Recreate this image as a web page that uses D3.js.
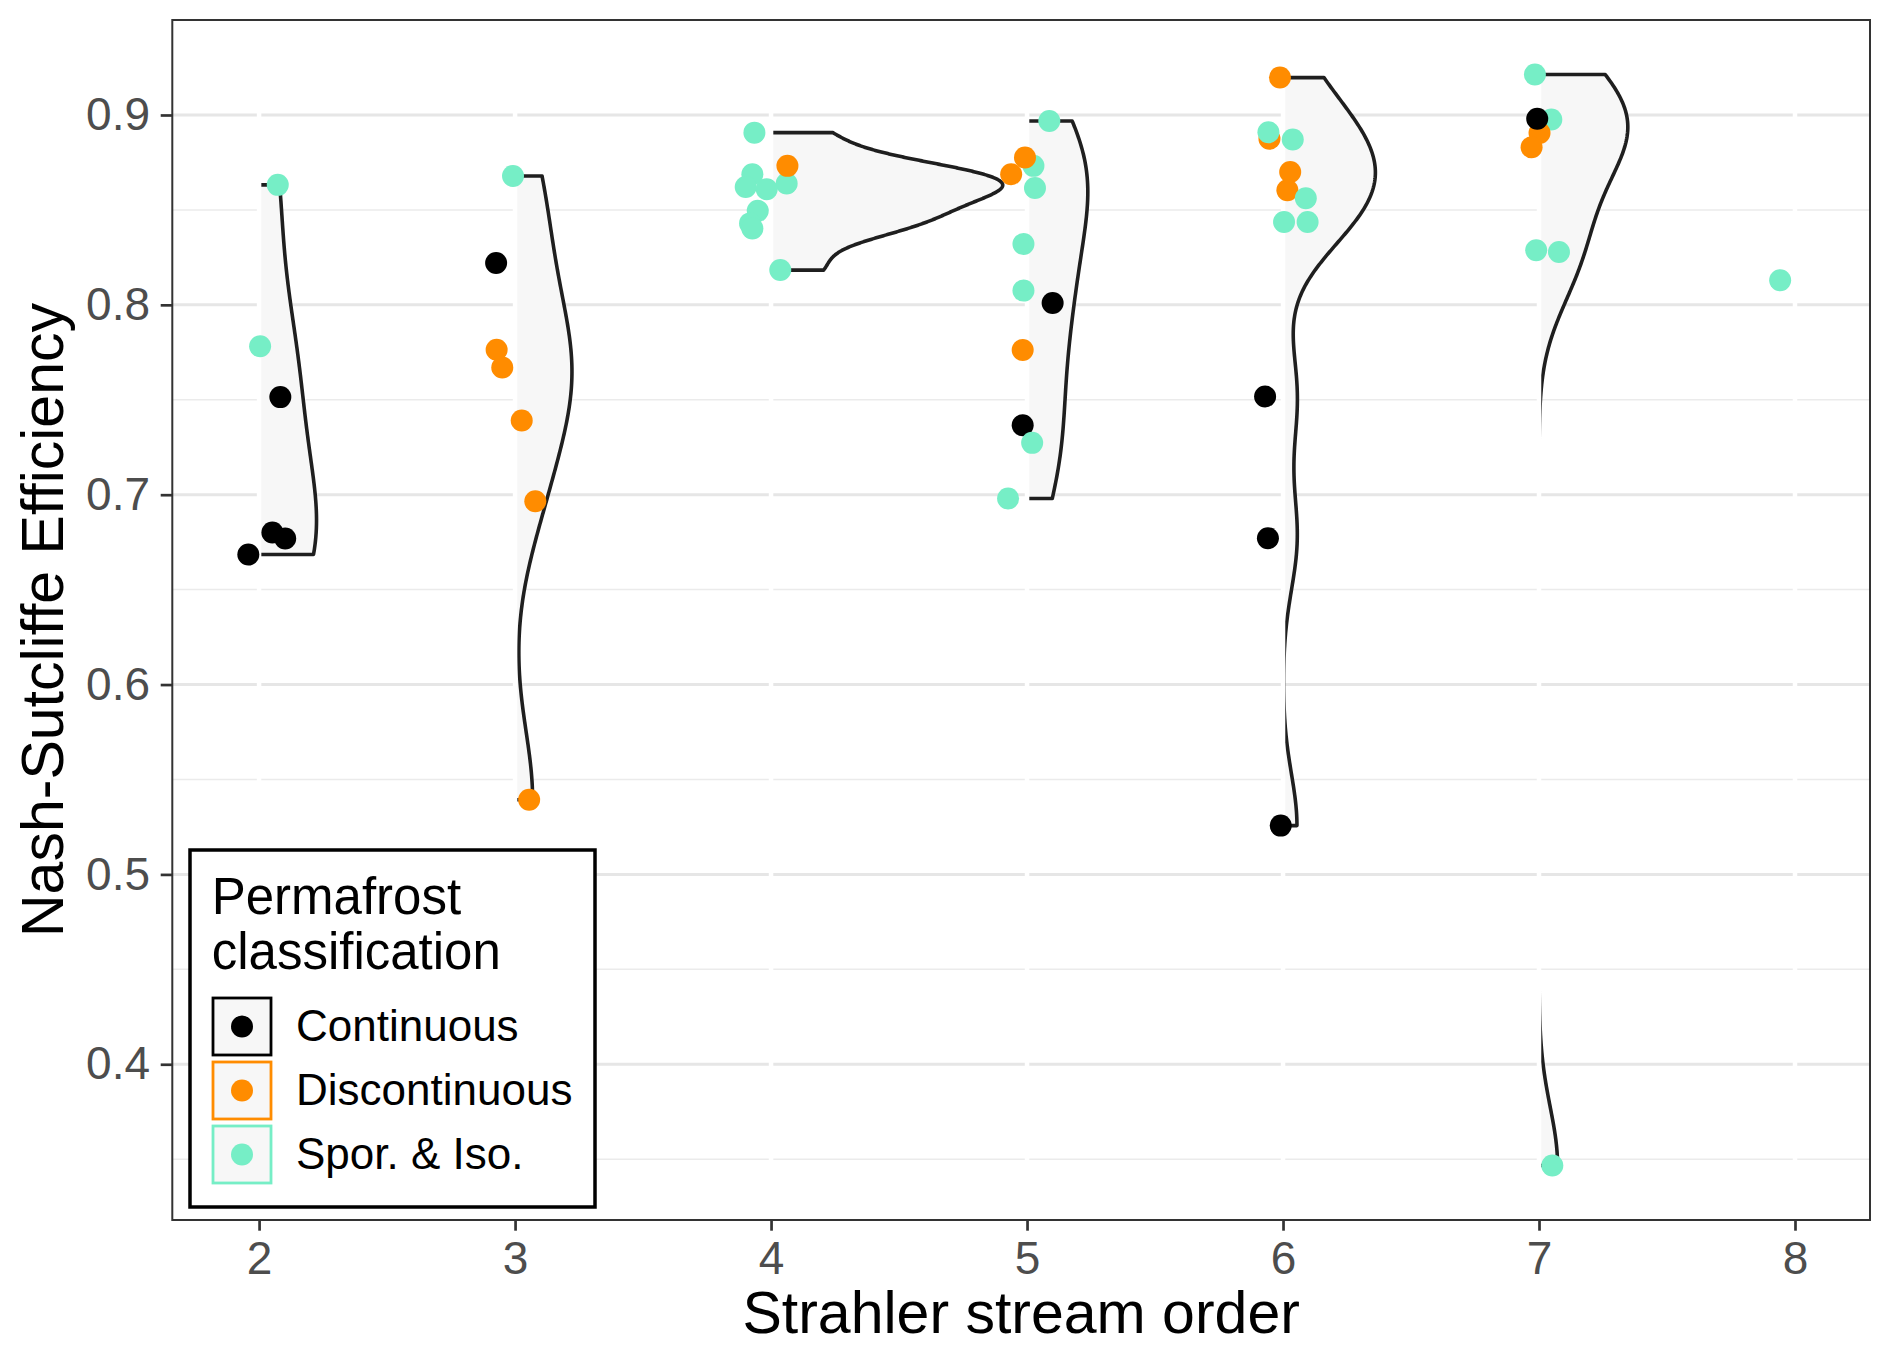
<!DOCTYPE html>
<html>
<head>
<meta charset="utf-8">
<script src="https://cdn.jsdelivr.net/npm/d3@7"></script>
<style>
  body { margin: 0; background: #fff; }
  text { font-family: "Liberation Sans", Arial, Helvetica, sans-serif; }
</style>
</head>
<body>
<div id="chart"></div>
<script>
// permafrost classes and their colours
const classes = ['Continuous', 'Discontinuous', 'Spor. & Iso.']
const classColours = ['#000000', '#FF8C00', '#76EEC6']

const xTicks = [2, 3, 4, 5, 6, 7, 8]
const yTicks = [0.4, 0.5, 0.6, 0.7, 0.8, 0.9]
const yMinorTicks = [0.35, 0.45, 0.55, 0.65, 0.75, 0.85]

// one entry per gauge: stream order, jittered x, NSE, permafrost class
const streamOrder = [
  2, 2, 2, 2, 2, 2,
  3, 3, 3, 3, 3, 3, 3,
  4, 4, 4, 4, 4, 4, 4, 4, 4, 4,
  5, 5, 5, 5, 5, 5, 5, 5, 5, 5, 5, 5,
  6, 6, 6, 6, 6, 6, 6, 6, 6, 6, 6, 6,
  7, 7, 7, 7, 7, 7, 7, 7,
  8
]
const jitterX = [
  2.073, 2.004, 2.083, 2.052, 2.102, 1.958,
  2.992, 2.926, 2.928, 2.950, 3.026, 3.079, 3.055,
  3.935, 4.061, 3.927, 3.901, 3.983, 3.948, 3.918, 3.927, 4.036, 4.064,
  5.087, 5.025, 4.992, 4.938, 5.031, 4.986, 4.986, 5.100, 4.983, 4.983, 5.020, 4.926,
  5.988, 5.947, 5.943, 6.038, 6.028, 6.017, 6.089, 6.004, 6.096, 5.930, 5.941, 5.991,
  6.984, 7.048, 7.002, 6.971, 6.989, 7.078, 7.052, 6.993,
  7.942
]
const nse = [
  0.8632, 0.7782, 0.7514, 0.6801, 0.6769, 0.6685,
  0.8679, 0.8220, 0.7763, 0.7670, 0.7391, 0.6965, 0.5393,
  0.8907, 0.8639, 0.8688, 0.8621, 0.8609, 0.8495, 0.8429, 0.8402, 0.8183, 0.8732,
  0.8968, 0.8732, 0.8776, 0.8688, 0.8615, 0.8320, 0.8075, 0.8010, 0.7762, 0.7366, 0.7273, 0.6980,
  0.9197, 0.8875, 0.8909, 0.8871, 0.8700, 0.8604, 0.8561, 0.8436, 0.8436, 0.7517, 0.6771, 0.5257,
  0.9213, 0.8976, 0.8905, 0.8830, 0.8288, 0.8278, 0.3467, 0.8980,
  0.8130
]
const permafrost = [
  'Spor. & Iso.', 'Spor. & Iso.', 'Continuous', 'Continuous', 'Continuous', 'Continuous',
  'Spor. & Iso.', 'Continuous', 'Discontinuous', 'Discontinuous', 'Discontinuous', 'Discontinuous', 'Discontinuous',
  'Spor. & Iso.', 'Spor. & Iso.', 'Spor. & Iso.', 'Spor. & Iso.', 'Spor. & Iso.', 'Spor. & Iso.', 'Spor. & Iso.', 'Spor. & Iso.', 'Spor. & Iso.', 'Discontinuous',
  'Spor. & Iso.', 'Spor. & Iso.', 'Discontinuous', 'Discontinuous', 'Spor. & Iso.', 'Spor. & Iso.', 'Spor. & Iso.', 'Continuous', 'Discontinuous', 'Continuous', 'Spor. & Iso.', 'Spor. & Iso.',
  'Discontinuous', 'Discontinuous', 'Spor. & Iso.', 'Spor. & Iso.', 'Discontinuous', 'Discontinuous', 'Spor. & Iso.', 'Spor. & Iso.', 'Spor. & Iso.', 'Continuous', 'Continuous', 'Continuous',
  'Spor. & Iso.', 'Spor. & Iso.', 'Discontinuous', 'Discontinuous', 'Spor. & Iso.', 'Spor. & Iso.', 'Spor. & Iso.', 'Continuous',
  'Spor. & Iso.'
]

const width = 1892
const height = 1354
const panel = { left: 172.3, right: 1870, top: 20, bottom: 1220 }

const colour = d3.scaleOrdinal().domain(classes).range(classColours)

const x = d3.scaleLinear()
  .domain([1.661, 8.293])
  .range([panel.left, panel.right])

const yExtent = d3.extent(nse)
const yPad = (yExtent[1] - yExtent[0]) * 0.05
const y = d3.scaleLinear()
  .domain([yExtent[0] - yPad, yExtent[1] + yPad])
  .range([panel.bottom, panel.top])

const svg = d3.select('#chart').append('svg')
  .attr('width', width)
  .attr('height', height)

// panel background + horizontal grid
svg.append('rect')
  .attr('x', panel.left).attr('y', panel.top)
  .attr('width', panel.right - panel.left).attr('height', panel.bottom - panel.top)
  .attr('fill', '#fff')

svg.append('g').selectAll('line')
  .data(yMinorTicks)
  .join('line')
  .attr('x1', panel.left).attr('x2', panel.right)
  .attr('y1', d => y(d)).attr('y2', d => y(d))
  .attr('stroke', '#EBEBEB').attr('stroke-width', 1.5)

svg.append('g').selectAll('line')
  .data(yTicks)
  .join('line')
  .attr('x1', panel.left).attr('x2', panel.right)
  .attr('y1', d => y(d)).attr('y2', d => y(d))
  .attr('stroke', '#E6E6E6').attr('stroke-width', 3)

// half violins: gaussian kde (nrd0 bandwidth), trimmed to data range, scaled by area
function bandwidth(v) {
  const s = d3.deviation(v)
  const sorted = v.slice().sort(d3.ascending)
  const iqr = d3.quantile(sorted, 0.75) - d3.quantile(sorted, 0.25)
  let lo = Math.min(s, iqr / 1.34)
  if (!lo) lo = s || 1
  return 0.9 * lo * Math.pow(v.length, -0.2)
}

const groups = d3.groups(d3.range(nse.length), i => streamOrder[i])
  .map(([order, idx]) => ({ order, values: idx.map(i => nse[i]) }))
  .filter(g => g.values.length > 1)

groups.forEach(g => {
  const bw = bandwidth(g.values)
  const [lo, hi] = d3.extent(g.values)
  g.dens = d3.range(512).map(k => {
    const t = lo + k * (hi - lo) / 511
    const d = d3.sum(g.values, v => Math.exp(-0.5 * ((t - v) / bw) ** 2)) / (g.values.length * bw * Math.sqrt(2 * Math.PI))
    return [t, d]
  })
})

const maxDens = d3.max(groups, g => d3.max(g.dens, d => d[1]))
const halfWidth = 0.905

const violinLine = d3.line()
  .x(d => d[0])
  .y(d => d[1])

svg.append('g').selectAll('path')
  .data(groups)
  .join('path')
  .attr('d', g => {
    const top = g.dens[g.dens.length - 1][0]
    const bottom = g.dens[0][0]
    const pts = [[x(g.order), y(top)]]
    g.dens.slice().reverse().forEach(([t, d]) => pts.push([x(g.order + halfWidth * d / maxDens), y(t)]))
    pts.push([x(g.order), y(bottom)])
    return violinLine(pts) + 'Z'
  })
  .attr('fill', '#F7F7F7')
  .attr('stroke', '#1F1F1F')
  .attr('stroke-width', 3.6)
  .attr('stroke-linejoin', 'round')

// white vertical grid drawn over the violins
svg.append('g').selectAll('line')
  .data(xTicks)
  .join('line')
  .attr('x1', d => x(d)).attr('x2', d => x(d))
  .attr('y1', panel.top).attr('y2', panel.bottom)
  .attr('stroke', '#fff').attr('stroke-width', 4.5)

// jittered points
svg.append('g').selectAll('circle')
  .data(d3.range(nse.length))
  .join('circle')
  .attr('cx', i => x(jitterX[i]))
  .attr('cy', i => y(nse[i]))
  .attr('r', 11)
  .attr('fill', i => colour(permafrost[i]))

// panel border
svg.append('rect')
  .attr('x', panel.left).attr('y', panel.top)
  .attr('width', panel.right - panel.left).attr('height', panel.bottom - panel.top)
  .attr('fill', 'none').attr('stroke', '#333').attr('stroke-width', 2)

// axes
const yAxis = svg.append('g')
  .attr('transform', `translate(${panel.left},0)`)
  .call(d3.axisLeft(y).tickValues(yTicks).tickFormat(d3.format('.1f')).tickSize(11.6).tickPadding(10.7))
yAxis.select('.domain').remove()

const xAxis = svg.append('g')
  .attr('transform', `translate(0,${panel.bottom})`)
  .call(d3.axisBottom(x).tickValues(xTicks).tickFormat(d3.format('d')).tickSize(10.7).tickPadding(11))
xAxis.select('.domain').remove()

svg.selectAll('.tick line').attr('stroke', '#333').attr('stroke-width', 2.7)
svg.selectAll('.tick text')
  .attr('fill', '#4D4D4D')
  .style('font-size', '46px')
  .style('font-family', '"Liberation Sans", Arial, Helvetica, sans-serif')

svg.append('text')
  .attr('x', (panel.left + panel.right) / 2)
  .attr('y', 1333)
  .attr('text-anchor', 'middle')
  .style('font-size', '59px')
  .text('Strahler stream order')

svg.append('text')
  .attr('transform', `translate(63,${(panel.top + panel.bottom) / 2}) rotate(-90)`)
  .attr('text-anchor', 'middle')
  .style('font-size', '59px')
  .text('Nash-Sutcliffe Efficiency')

// legend
const legend = svg.append('g')
legend.append('rect')
  .attr('x', 190).attr('y', 850)
  .attr('width', 405).attr('height', 357)
  .attr('fill', '#fff').attr('stroke', '#000').attr('stroke-width', 3.5)

legend.append('text')
  .attr('x', 211.7)
  .style('font-size', '51px')
  .selectAll('tspan')
  .data(['Permafrost', 'classification'])
  .join('tspan')
  .attr('x', 211.7)
  .attr('y', (d, i) => 913.5 + i * 55.5)
  .text(d => d)

const keys = legend.selectAll('g.key')
  .data(classes)
  .join('g')
  .attr('class', 'key')
  .attr('transform', (d, i) => `translate(213,${998 + i * 64})`)

keys.append('rect')
  .attr('width', 58).attr('height', 57)
  .attr('fill', '#F7F7F7')
  .attr('stroke', d => colour(d))
  .attr('stroke-width', 2.8)

keys.append('circle')
  .attr('cx', 29).attr('cy', 28.5).attr('r', 11)
  .attr('fill', d => colour(d))

keys.append('text')
  .attr('x', 83)
  .attr('y', 43)
  .style('font-size', '44px')
  .text(d => d)
</script>
</body>
</html>
